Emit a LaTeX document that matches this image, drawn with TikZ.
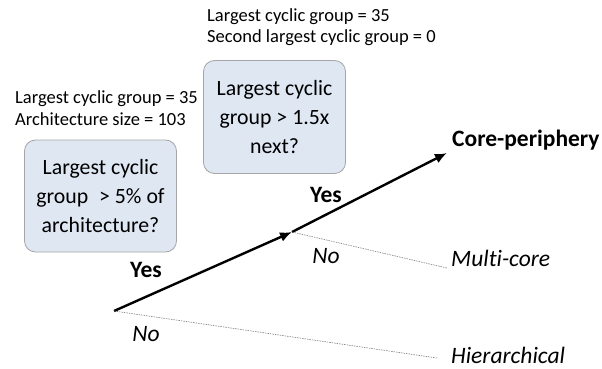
\documentclass[tikz,border=0pt]{standalone}
\usepackage{fontspec}
\setmainfont[Ligatures=NoCommon]{Carlito}
\usetikzlibrary{arrows.meta}
\definecolor{boxfill}{HTML}{DFE7F3}
\definecolor{boxline}{HTML}{A6A6A6}
\tikzset{
  question/.style={
    draw=boxline,
    fill=boxfill,
    rounded corners=11pt,
    line width=0.8pt,
    align=center,
    inner sep=0pt,
    font=\fontsize{21.8}{29}\selectfont
  },
  info/.style={
    anchor=west,
    align=left,
    inner sep=0pt,
    font=\fontsize{18.5}{21.5}\selectfont
  },
  yesarrow/.style={
    line width=2.4pt,
    -{Latex[length=12pt,width=10pt]}
  },
  noline/.style={
    gray,
    line width=0.6pt,
    dash pattern=on 1.5pt off 1pt
  },
  yeslabel/.style={font=\fontsize{23.5}{26}\selectfont\bfseries},
  nolabel/.style={font=\fontsize{23.5}{26}\selectfont\itshape},
  outcome/.style={anchor=west,inner sep=0pt,font=\fontsize{23.5}{26}\selectfont}
}

\begin{document}
\begin{tikzpicture}[x=1pt,y=-1pt]
    \useasboundingbox (0,0) rectangle (602,369);
    % questions
    \node[question,minimum width=152pt,minimum height=112pt] (q1) at (100.5,196)
      {Largest cyclic\\group\enspace> 5\% of\\architecture?};
    \node[question,minimum width=142pt,minimum height=113pt] (q2) at (274.5,117)
      {Largest cyclic\\group > 1.5x\\next?};
    % data
    \node[info] (d1) at (15,108) {Largest cyclic group = 35\\Architecture size = 103};
    \node[info] (d2) at (207,27) {Largest cyclic group = 35\\Second largest cyclic group = 0};
    % tree
    \coordinate (root) at (114,311);
    \coordinate (mid) at (292,232);
    \coordinate (top) at (447,153);
    \coordinate (midno) at (447,268);
    \coordinate (rootno) at (437,358);
    \draw[yesarrow] (root) -- (mid);
    \draw[yesarrow] (mid) -- (top);
    \draw[noline] (root) -- (rootno);
    \draw[noline] (mid) -- (midno);
    % labels
    \node[yeslabel] (y1) at (146,270) {Yes};
    \node[nolabel] (n1) at (146,334) {No};
    \node[yeslabel] (y2) at (326,195) {Yes};
    \node[nolabel] (n2) at (326,256) {No};
    \node[outcome,font=\fontsize{23.5}{26}\selectfont\bfseries] (cp) at (452,140) {Core-periphery};
    \node[outcome,font=\fontsize{23.5}{26}\selectfont\itshape] (mc) at (451,258) {Multi-core};
    \node[outcome,font=\fontsize{23.5}{26}\selectfont\itshape] (hi) at (451,355) {Hierarchical};
\end{tikzpicture}
\end{document}
